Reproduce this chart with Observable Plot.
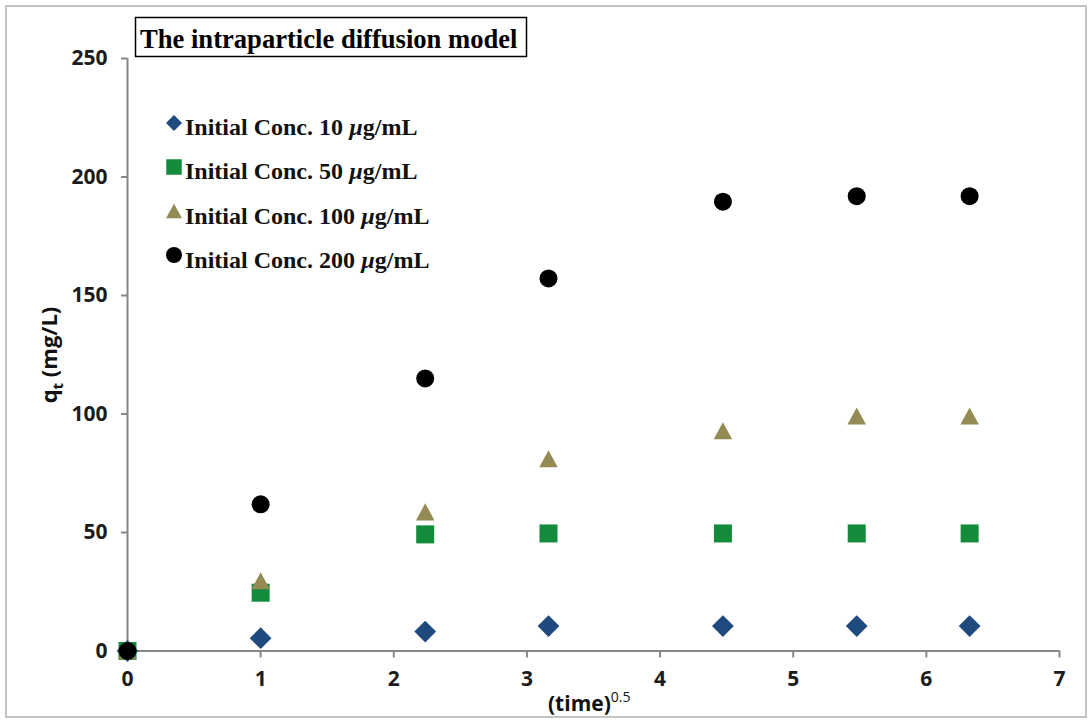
<!DOCTYPE html>
<html>
<head>
<meta charset="utf-8">
<script src="https://cdn.jsdelivr.net/npm/d3@7"></script>
<script src="https://cdn.jsdelivr.net/npm/@observablehq/plot@0.6"></script>
<style>
  html, body { margin: 0; padding: 0; background: #fff; }
  #figure { position: relative; width: 1090px; height: 720px; overflow: hidden; }
  #frame { position: absolute; left: 5px; top: 5px; width: 1082px; height: 713px;
           border: 2px solid #c4c4c4; box-sizing: border-box; pointer-events: none; }
  #figure svg { position: absolute; left: 0; top: 0; }
</style>
</head>
<body>
<div id="figure"><div id="frame"></div></div>
<script>
// Square root of contact time (min^0.5)
const sqrtTime = [0, 1, 2.236, 3.162, 4.472, 5.477, 6.325];

// Adsorbed amount q_t (mg/L) for each initial concentration
const conc10  = [0, 5.4, 8.2, 10.5, 10.5, 10.5, 10.5];
const conc50  = [0, 24.6, 49.2, 49.6, 49.6, 49.6, 49.6];
const conc100 = [0, 29.6, 58.7, 81.1, 92.9, 99.2, 99.2];
const conc200 = [0, 61.9, 115, 157.2, 189.6, 191.9, 191.9];

const seriesNames = ["Initial Conc. 10", "Initial Conc. 50", "Initial Conc. 100", "Initial Conc. 200"];
const seriesColors = ["#1f4a7e", "#128b3b", "#948a54", "#000000"];

const xTicks = [0, 1, 2, 3, 4, 5, 6, 7];
const yTicks = [0, 50, 100, 150, 200, 250];

// Upright triangle centred on its bounding box
const boxTriangle = {
  draw(context, size) {
    const w = Math.sqrt(size);
    const h = w * 0.92;
    context.moveTo(0, -h / 2);
    context.lineTo(w / 2, h / 2);
    context.lineTo(-w / 2, h / 2);
    context.closePath();
  }
};

const toRows = (ys) => sqrtTime.map((x, i) => ({x, y: ys[i]}));
const axisGray = "#878787";

const chart = Plot.plot({
  width: 1090,
  height: 720,
  marginLeft: 127,
  marginRight: 31,
  marginTop: 58,
  marginBottom: 69.5,
  style: {fontFamily: "'Open Sans', sans-serif", fontSize: "21px", fontWeight: "bold", background: "transparent", overflow: "visible"},
  x: {domain: [0, 7]},
  y: {domain: [0, 250]},
  marks: [
    Plot.axisY({ticks: yTicks, tickFormat: d3.format("d"), tickSize: 6, tickPadding: 14, stroke: axisGray, strokeWidth: 2, fill: "#1c1c1c", label: null, fontSize: 21}),
    Plot.axisX({ticks: xTicks, tickFormat: d3.format("d"), tickSize: 7, tickPadding: 13, stroke: axisGray, strokeWidth: 2, fill: "#1c1c1c", label: null, fontSize: 21}),
    Plot.ruleX([0], {stroke: axisGray, strokeWidth: 2}),
    Plot.ruleY([0], {stroke: axisGray, strokeWidth: 2}),
    Plot.dot(toRows(conc10),  {x: "x", y: "y", symbol: "diamond2", r: 9.8, fill: seriesColors[0], stroke: "none"}),
    Plot.dot(toRows(conc50),  {x: "x", y: "y", symbol: "square", r: 10.16, fill: seriesColors[1], stroke: "none"}),
    Plot.dot(toRows(conc100), {x: "x", y: "y", symbol: boxTriangle, r: 10.44, fill: seriesColors[2], stroke: "none"}),
    Plot.dot(toRows(conc200), {x: "x", y: "y", symbol: "circle", r: 9, fill: seriesColors[3], stroke: "none"})
  ]
});

document.getElementById("figure").prepend(chart);

const svg = d3.select(chart);
const serif = "'Liberation Serif', 'Times New Roman', serif";

// Boxed title
svg.append("rect")
  .attr("x", 135.5).attr("y", 17.5).attr("width", 391).attr("height", 39)
  .attr("fill", "#fff").attr("stroke", "#000").attr("stroke-width", 1.5);
svg.append("text")
  .attr("x", 140).attr("y", 48).attr("text-anchor", "start")
  .style("font-family", serif)
  .style("font-size", "26.6px").style("font-weight", "bold").attr("fill", "#000")
  .text("The intraparticle diffusion model");

// Legend
const legendSymbols = [
  {type: d3.symbolDiamond2, size: 163},
  {type: d3.symbolSquare, size: 240},
  {type: boxTriangle, size: 256},
  {type: d3.symbolCircle, size: 201}
];
const legendMarkerY = [123, 167, 211, 255];
const legendBaseY = [135, 179, 224, 268];
seriesNames.forEach((name, i) => {
  svg.append("path")
    .attr("transform", `translate(174,${legendMarkerY[i]})`)
    .attr("d", d3.symbol(legendSymbols[i].type, legendSymbols[i].size)())
    .attr("fill", seriesColors[i]);
  const t = svg.append("text")
    .attr("x", 185).attr("y", legendBaseY[i]).attr("text-anchor", "start")
    .style("font-family", serif)
    .style("font-size", "24px").style("font-weight", "bold").attr("fill", "#111");
  t.append("tspan").text(name + " ");
  t.append("tspan").style("font-style", "italic").text("\u00b5");
  t.append("tspan").text("g/mL");
});

// Axis titles
const yTitle = svg.append("text")
  .attr("transform", "translate(57,355) rotate(-90)")
  .attr("text-anchor", "middle")
  .style("font-family", "'Open Sans', sans-serif").style("font-size", "22px").style("font-weight", "bold")
  .attr("fill", "#111");
yTitle.append("tspan").text("q");
yTitle.append("tspan").attr("dy", 6).style("font-size", "15px").text("t");
yTitle.append("tspan").attr("dy", -6).text(" (mg/L)");

const xTitle = svg.append("text")
  .attr("x", 548).attr("y", 711).attr("text-anchor", "start")
  .style("font-family", "'Open Sans', sans-serif").style("font-size", "21px").style("font-weight", "bold")
  .attr("fill", "#111");
xTitle.append("tspan").text("(time)");
xTitle.append("tspan").attr("dy", -9).style("font-size", "14px").style("font-weight", "normal").text("0.5");
</script>
</body>
</html>
